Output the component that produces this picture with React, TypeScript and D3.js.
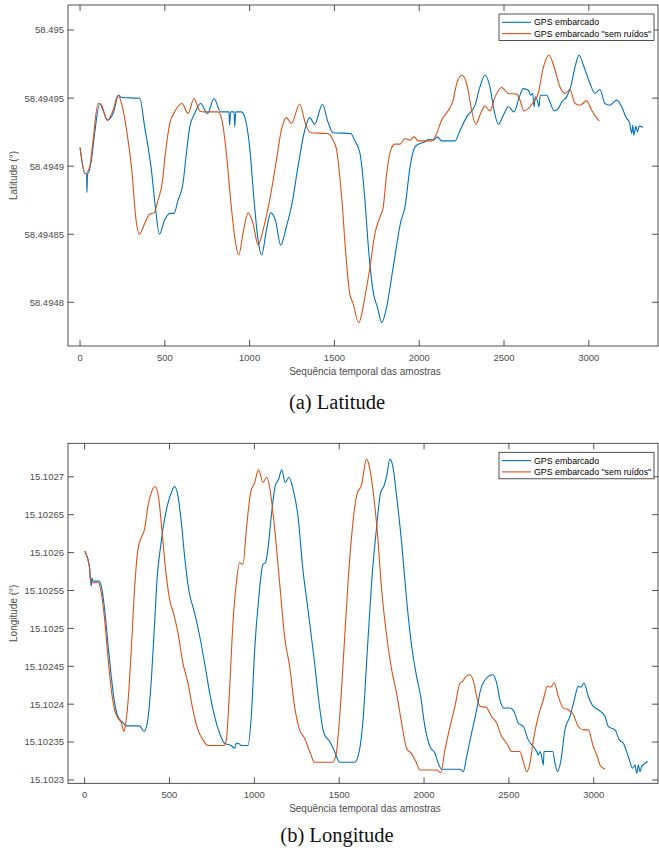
import React from "react";
import * as d3 from "d3";

// ---------- DATA ----------
const xTicks = [0, 500, 1000, 1500, 2000, 2500, 3000];
const latTicks = [58.4948, 58.49485, 58.4949, 58.49495, 58.495];
const latTickLabels = ["58.4948", "58.49485", "58.4949", "58.49495", "58.495"];
const lonTicks = [15.1023, 15.10235, 15.1024, 15.10245, 15.1025, 15.10255, 15.1026, 15.10265, 15.1027];
const lonTickLabels = ["15.1023", "15.10235", "15.1024", "15.10245", "15.1025", "15.10255", "15.1026", "15.10265", "15.1027"];
const seriesNames = ["GPS embarcado", 'GPS embarcado "sem ruídos"'];

const latGps: [number, number][] = [
  [0, 58.4949137], [28, 58.4948946], [38, 58.4948946], [41, 58.4948807], [44, 58.4948946], [47, 58.4948946],
  [67, 58.4949044], [86, 58.494924], [116, 58.494946], [136, 58.4949411], [161, 58.4949338], [195, 58.4949387],
  [228, 58.4949521], [244, 58.4949504], [352, 58.4949499], [381, 58.4949289], [421, 58.4948971], [444, 58.4948701],
  [468, 58.4948501], [499, 58.4948604], [529, 58.4948653], [554, 58.4948653], [578, 58.494875], [607, 58.4948873],
  [627, 58.4949093], [647, 58.4949289], [676, 58.4949387], [711, 58.494946], [751, 58.4949387], [790, 58.4949497],
  [829, 58.4949399], [878, 58.4949399], [882, 58.4949301], [888, 58.4949399], [908, 58.4949399], [912, 58.4949289],
  [918, 58.4949399], [951, 58.4949399], [971, 58.4949362], [1000, 58.4949142], [1026, 58.494875], [1050, 58.4948457],
  [1071, 58.4948347], [1099, 58.494853], [1124, 58.4948657], [1152, 58.4948604], [1183, 58.494842], [1217, 58.4948555],
  [1250, 58.4948726], [1285, 58.4948995], [1325, 58.4949264], [1354, 58.4949357], [1384, 58.4949308], [1429, 58.4949455],
  [1462, 58.4949325], [1492, 58.4949245], [1596, 58.494924], [1619, 58.4949191], [1651, 58.4949093], [1680, 58.494875],
  [1700, 58.4948408], [1730, 58.4948065], [1753, 58.4947967], [1779, 58.494785], [1808, 58.4947967], [1847, 58.4948261],
  [1891, 58.4948591], [1916, 58.4948701], [1946, 58.4948995], [1975, 58.4949142], [2005, 58.4949166], [2034, 58.4949179],
  [2054, 58.4949196], [2083, 58.4949191], [2107, 58.4949215], [2132, 58.4949186], [2211, 58.4949186], [2241, 58.4949264],
  [2280, 58.4949362], [2329, 58.4949448], [2358, 58.4949582], [2388, 58.4949668], [2417, 58.4949582], [2441, 58.4949411],
  [2467, 58.4949308], [2496, 58.4949374], [2526, 58.4949436], [2559, 58.4949399], [2590, 58.4949509], [2614, 58.494957],
  [2643, 58.4949558], [2657, 58.4949521], [2669, 58.4949535], [2677, 58.4949436], [2685, 58.4949509], [2696, 58.4949485],
  [2706, 58.4949436], [2714, 58.4949521], [2752, 58.4949521], [2771, 58.4949472], [2795, 58.4949406], [2820, 58.4949423],
  [2840, 58.4949472], [2869, 58.4949509], [2893, 58.4949582], [2919, 58.4949729], [2942, 58.4949815], [2972, 58.4949729],
  [3007, 58.4949607], [3036, 58.4949534], [3066, 58.4949563], [3095, 58.494946], [3125, 58.4949448], [3164, 58.4949485],
  [3194, 58.4949436], [3223, 58.494935], [3239, 58.4949325], [3253, 58.494924], [3259, 58.4949301], [3266, 58.4949228],
  [3278, 58.4949294], [3286, 58.4949252], [3298, 58.4949294], [3318, 58.4949284],
];

const latClean: [number, number][] = [
  [0, 58.4949137], [31, 58.4948946], [57, 58.4948995], [77, 58.4949191], [106, 58.494946], [126, 58.4949448],
  [161, 58.4949338], [195, 58.4949411], [224, 58.4949521], [254, 58.4949411], [283, 58.4949191], [307, 58.4948946],
  [328, 58.4948628], [350, 58.4948501], [381, 58.4948579], [411, 58.4948648], [436, 58.4948657], [460, 58.494875],
  [484, 58.4948873], [503, 58.4949093], [529, 58.4949313], [558, 58.4949399], [601, 58.494946], [637, 58.4949387],
  [672, 58.4949497], [706, 58.4949406], [735, 58.4949399], [814, 58.4949399], [837, 58.4949338], [863, 58.4949093],
  [892, 58.4948701], [912, 58.4948481], [936, 58.4948347], [961, 58.4948506], [991, 58.4948657], [1020, 58.4948579],
  [1050, 58.494842], [1079, 58.494853], [1118, 58.494875], [1158, 58.4949044], [1187, 58.4949264], [1217, 58.4949357],
  [1246, 58.4949313], [1295, 58.4949455], [1329, 58.4949313], [1360, 58.4949245], [1462, 58.494924], [1492, 58.4949191],
  [1511, 58.494913], [1541, 58.4948799], [1570, 58.494831], [1590, 58.4948065], [1610, 58.4947992], [1643, 58.494785],
  [1680, 58.4948041], [1710, 58.4948261], [1739, 58.4948506], [1769, 58.4948628], [1788, 58.4948701], [1808, 58.4948946],
  [1832, 58.4949118], [1857, 58.4949162], [1887, 58.4949162], [1916, 58.4949203], [1946, 58.4949191], [1969, 58.4949215],
  [1995, 58.4949186], [2073, 58.4949186], [2103, 58.494924], [2132, 58.4949338], [2172, 58.4949411], [2197, 58.4949472],
  [2221, 58.4949607], [2252, 58.4949668], [2280, 58.4949607], [2309, 58.4949411], [2333, 58.4949308], [2362, 58.4949387],
  [2388, 58.4949441], [2417, 58.4949406], [2447, 58.4949509], [2486, 58.4949578], [2526, 58.4949534], [2575, 58.4949529],
  [2594, 58.4949485], [2618, 58.4949406], [2643, 58.4949423], [2673, 58.4949472], [2702, 58.4949534], [2728, 58.4949705],
  [2765, 58.4949815], [2801, 58.4949705], [2830, 58.4949582], [2860, 58.4949534], [2889, 58.4949563], [2919, 58.494946],
  [2948, 58.4949448], [2987, 58.494948], [3017, 58.4949411], [3042, 58.4949362], [3062, 58.4949333],
];

const lonGps: [number, number][] = [
  [0, 15.102602], [29, 15.10258], [33, 15.102569], [39, 15.1025557], [43, 15.1025668], [49, 15.1025624],
  [82, 15.1025624], [98, 15.1025557], [118, 15.1025249], [137, 15.1024808], [157, 15.1024367], [177, 15.1024014],
  [196, 15.1023838], [226, 15.1023758], [245, 15.1023714], [324, 15.1023714], [350, 15.1023639], [369, 15.102375],
  [389, 15.102419], [408, 15.1024896], [428, 15.102569], [448, 15.1026086], [461, 15.1026307], [487, 15.1026616],
  [511, 15.1026792], [530, 15.1026872], [550, 15.1026748], [570, 15.1026395], [589, 15.1025954], [613, 15.1025513],
  [648, 15.1025205], [678, 15.1024896], [707, 15.1024543], [737, 15.1024146], [766, 15.1023838], [795, 15.1023617],
  [825, 15.1023485], [864, 15.1023454], [884, 15.1023419], [894, 15.1023485], [913, 15.1023476], [923, 15.1023454],
  [962, 15.1023454], [982, 15.1023838], [1002, 15.102472], [1025, 15.1025381], [1051, 15.1025844], [1065, 15.1025866],
  [1080, 15.1026042], [1100, 15.1026483], [1123, 15.102688], [1143, 15.1026968], [1161, 15.1027092], [1182, 15.1026924],
  [1204, 15.1026995], [1228, 15.1026836], [1257, 15.1026483], [1286, 15.1025778], [1316, 15.1025249], [1355, 15.1024543],
  [1379, 15.1024058], [1410, 15.1023617], [1444, 15.1023507], [1473, 15.1023375], [1503, 15.1023234], [1591, 15.1023234],
  [1620, 15.1023397], [1642, 15.1023838], [1666, 15.102472], [1691, 15.1025602], [1721, 15.1026351], [1744, 15.1026792],
  [1764, 15.102688], [1780, 15.1027012], [1799, 15.1027233], [1819, 15.1027101], [1838, 15.1026748], [1868, 15.1026131],
  [1897, 15.1025381], [1927, 15.1024764], [1956, 15.1024367], [1980, 15.1024102], [2005, 15.1023705], [2035, 15.1023441],
  [2064, 15.1023353], [2084, 15.102322], [2104, 15.1023141], [2123, 15.1023141], [2212, 15.1023141], [2231, 15.102311],
  [2251, 15.1023309], [2280, 15.1023617], [2310, 15.1023926], [2333, 15.102419], [2353, 15.1024301], [2379, 15.1024367],
  [2404, 15.1024389], [2428, 15.1024279], [2447, 15.1024058], [2471, 15.1023948], [2506, 15.102395], [2530, 15.1023904],
  [2555, 15.102375], [2585, 15.1023705], [2614, 15.1023529], [2644, 15.1023441], [2664, 15.1023375], [2673, 15.1023331],
  [2683, 15.1023375], [2693, 15.1023309], [2703, 15.1023198], [2707, 15.1023375], [2742, 15.1023375], [2758, 15.1023375],
  [2772, 15.102322], [2787, 15.102311], [2807, 15.1023265], [2830, 15.1023661], [2860, 15.1023838], [2883, 15.1024036],
  [2909, 15.1024235], [2925, 15.1024225], [2942, 15.1024279], [2968, 15.1024102], [2997, 15.102397], [3027, 15.1023926],
  [3066, 15.1023838], [3086, 15.1023705], [3125, 15.1023661], [3151, 15.1023529], [3174, 15.1023485], [3204, 15.1023309],
  [3229, 15.1023154], [3243, 15.1023198], [3253, 15.1023088], [3263, 15.1023198], [3272, 15.102311], [3282, 15.1023176],
  [3318, 15.1023242],
];

const lonClean: [number, number][] = [
  [0, 15.102602], [29, 15.10258], [35, 15.1025624], [49, 15.1025602], [82, 15.1025602], [98, 15.1025469],
  [118, 15.1025116], [137, 15.1024631], [157, 15.102419], [177, 15.1023926], [196, 15.1023816], [216, 15.1023758],
  [232, 15.1023639], [239, 15.1023705], [255, 15.1024014], [275, 15.102472], [294, 15.1025513], [314, 15.1026042],
  [334, 15.1026197], [353, 15.1026307], [373, 15.1026616], [393, 15.1026792], [416, 15.1026872], [436, 15.1026726],
  [455, 15.1026307], [475, 15.1025822], [501, 15.1025381], [526, 15.1025183], [550, 15.102494], [579, 15.1024543],
  [609, 15.1024279], [638, 15.1023926], [668, 15.1023661], [697, 15.1023529], [727, 15.1023454], [821, 15.1023454],
  [835, 15.1023529], [854, 15.102419], [874, 15.1025072], [894, 15.1025602], [913, 15.1025866], [933, 15.1025844],
  [953, 15.1026307], [978, 15.1026792], [1002, 15.1026924], [1025, 15.1027092], [1051, 15.1026924], [1072, 15.1026995],
  [1092, 15.1026836], [1120, 15.1026307], [1149, 15.1025602], [1178, 15.1024896], [1208, 15.1024499], [1237, 15.102397],
  [1267, 15.1023661], [1296, 15.1023551], [1326, 15.1023375], [1355, 15.1023234], [1463, 15.1023234], [1483, 15.1023353],
  [1503, 15.1023838], [1528, 15.102472], [1552, 15.1025602], [1575, 15.1026263], [1607, 15.1026792], [1630, 15.102688],
  [1661, 15.1027233], [1681, 15.1027101], [1701, 15.1026792], [1725, 15.1026263], [1750, 15.1025513], [1780, 15.1024896],
  [1809, 15.1024455], [1838, 15.1024146], [1868, 15.102375], [1897, 15.1023419], [1927, 15.1023344], [1952, 15.1023242],
  [1976, 15.1023132], [2074, 15.1023132], [2098, 15.1023097], [2123, 15.1023397], [2153, 15.1023705], [2182, 15.102397],
  [2212, 15.1024279], [2227, 15.1024301], [2247, 15.1024367], [2271, 15.1024389], [2294, 15.1024279], [2314, 15.1024058],
  [2333, 15.102397], [2365, 15.102396], [2398, 15.1023838], [2428, 15.102375], [2457, 15.1023573], [2487, 15.1023485],
  [2516, 15.1023375], [2565, 15.1023375], [2585, 15.1023242], [2605, 15.102311], [2624, 15.102322], [2644, 15.1023529],
  [2673, 15.1023838], [2703, 15.1024058], [2726, 15.1024235], [2746, 15.1024226], [2768, 15.1024279], [2791, 15.1024102],
  [2821, 15.1023948], [2850, 15.1023926], [2880, 15.102386], [2909, 15.1023705], [2939, 15.1023661], [2968, 15.1023661],
  [2997, 15.1023441], [3021, 15.1023309], [3037, 15.1023198], [3066, 15.1023141],
];

// ---------- STYLE ----------
const BLUE = "#0072BD";
const ORANGE = "#D95319";
const AXIS = "#262626";
const TICKTXT = "#4d4d4d";
const FONT = "'Liberation Sans', Arial, Helvetica, sans-serif";

type PanelProps = {
  top: number;
  bottom: number;
  xDomain: [number, number];
  yDomain: [number, number];
  yTicks: number[];
  yTickLabels: string[];
  yLabel: string;
  s1: [number, number][];
  s2: [number, number][];
  caption: string;
  captionY: number;
};

function Panel(p: PanelProps) {
  const left = 68;
  const right = 658;
  const x = d3.scaleLinear().domain(p.xDomain).range([left, right]);
  const y = d3.scaleLinear().domain(p.yDomain).range([p.bottom, p.top]);
  const line = d3
    .line<[number, number]>()
    .x((d) => x(d[0]))
    .y((d) => y(d[1]))
    .curve(d3.curveMonotoneX);
  const tl = 6;
  const legX = 499;
  const legY = p.top + 9;
  return (
    <g>
      <path d={line(p.s1) || ""} fill="none" stroke={BLUE} strokeWidth={1.1} />
      <path d={line(p.s2) || ""} fill="none" stroke={ORANGE} strokeWidth={1.1} />
      {/* box */}
      <rect x={left} y={p.top} width={right - left} height={p.bottom - p.top} fill="none" stroke={AXIS} strokeWidth={0.8} />
      {xTicks.map((t) => (
        <g key={"x" + t}>
          <line x1={x(t)} x2={x(t)} y1={p.bottom} y2={p.bottom - tl} stroke={AXIS} strokeWidth={0.8} />
          <line x1={x(t)} x2={x(t)} y1={p.top} y2={p.top + tl} stroke={AXIS} strokeWidth={0.8} />
          <text x={x(t)} y={p.bottom + 15} textAnchor="middle" fontSize={9.5} fill={TICKTXT} fontFamily={FONT}>
            {t}
          </text>
        </g>
      ))}
      {p.yTicks.map((t, i) => (
        <g key={"y" + t}>
          <line x1={left} x2={left + tl} y1={y(t)} y2={y(t)} stroke={AXIS} strokeWidth={0.8} />
          <line x1={right} x2={right - tl} y1={y(t)} y2={y(t)} stroke={AXIS} strokeWidth={0.8} />
          <text x={left - 4} y={y(t) + 3.4} textAnchor="end" fontSize={9.5} fill={TICKTXT} fontFamily={FONT}>
            {p.yTickLabels[i]}
          </text>
        </g>
      ))}
      <text x={365} y={p.bottom + 29} textAnchor="middle" fontSize={10} fill={TICKTXT} fontFamily={FONT}>
        Sequência temporal das amostras
      </text>
      <text
        transform={`translate(17,${(p.top + p.bottom) / 2}) rotate(-90)`}
        textAnchor="middle"
        fontSize={10}
        fill={TICKTXT}
        fontFamily={FONT}
      >
        {p.yLabel}
      </text>
      {/* legend */}
      <rect x={legX} y={legY} width={155} height={26.5} fill="white" stroke={AXIS} strokeWidth={0.8} />
      {seriesNames.map((n, i) => (
        <g key={n}>
          <line x1={legX + 3} x2={legX + 32} y1={legY + 8.3 + i * 11.3} y2={legY + 8.3 + i * 11.3} stroke={i === 0 ? BLUE : ORANGE} strokeWidth={1.1} />
          <text x={legX + 35} y={legY + 11.3 + i * 11.3} fontSize={8.8} fill="#000" fontFamily={FONT}>
            {n}
          </text>
        </g>
      ))}
      <text x={337} y={p.captionY} textAnchor="middle" fontSize={20.5} fill="#111" fontFamily="'Liberation Serif', 'Times New Roman', serif">
        {p.caption}
      </text>
    </g>
  );
}

export default function App() {
  return (
    <svg width={659} height={850} style={{ position: "absolute", left: 0, top: 0, background: "white" }}>
      <rect x={0} y={0} width={659} height={850} fill="white" />
      <Panel
        top={5}
        bottom={346}
        xDomain={[-71, 3408]}
        yDomain={[58.4947679, 58.4950184]}
        yTicks={latTicks}
        yTickLabels={latTickLabels}
        yLabel="Latitude (°)"
        s1={latGps}
        s2={latClean}
        caption="(a) Latitude"
        captionY={409}
      />
      <Panel
        top={443.3}
        bottom={783.3}
        xDomain={[-98, 3378.5]}
        yDomain={[15.1022956, 15.1027442]}
        yTicks={lonTicks}
        yTickLabels={lonTickLabels}
        yLabel="Longitude (°)"
        s1={lonGps}
        s2={lonClean}
        caption="(b) Longitude"
        captionY={842}
      />
    </svg>
  );
}
